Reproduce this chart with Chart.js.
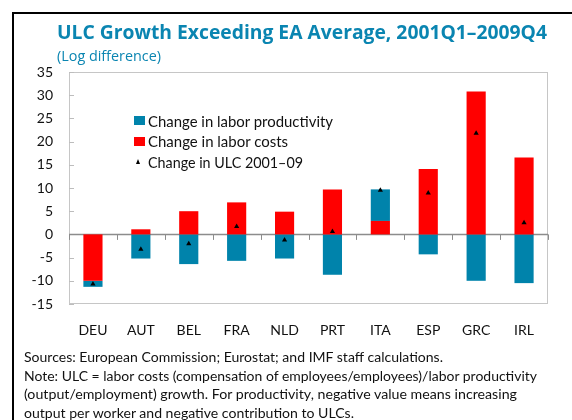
<!DOCTYPE html>
<html><head><meta charset="utf-8">
<script src="https://cdn.jsdelivr.net/npm/chart.js@4.4.1/dist/chart.umd.min.js"></script>
<style>
html,body{margin:0;padding:0;background:#fff;width:572px;height:420px;overflow:hidden;position:relative;font-family:Lato,sans-serif}
#frame{position:absolute;left:12px;top:12px;width:620px;height:470px;border-left:2px solid #000;border-top:2px solid #000;}
#c{position:absolute;left:0;top:0}
.t{position:absolute;white-space:nowrap;transform-origin:0 50%;line-height:20px;height:20px;color:#111}
.title{font-family:"Open Sans",sans-serif;font-weight:700;font-size:19.5px;color:#0A85B1;left:57px;top:22px}
.sub{font-family:"Open Sans",sans-serif;font-size:14px;color:#0A85B1;left:57px;top:46px}
.lg{font-size:15px;left:148px}
.sw{position:absolute;left:134px;width:11px;height:9px}
.tri{position:absolute;left:136px;width:0;height:0;border-left:2.5px solid transparent;border-right:2.5px solid transparent;border-bottom:5px solid #000}
.note{font-size:13.5px;left:24px}
</style></head>
<body>
<div id="frame"></div>
<canvas id="c" width="572" height="420"></canvas>
<div class="t title" data-w="490">ULC Growth Exceeding EA Average, 2001Q1–2009Q4</div>
<div class="t sub" data-w="104">(Log difference)</div>
<div class="sw" style="top:116px;background:#0083AB"></div>
<div class="t lg" style="top:111px" data-w="185">Change in labor productivity</div>
<div class="sw" style="top:137px;background:#FF0000"></div>
<div class="t lg" style="top:131px" data-w="140">Change in labor costs</div>
<div class="tri" style="top:159px"></div>
<div class="t lg" style="top:152px" data-w="155">Change in ULC 2001–09</div>
<div class="t note" style="top:347px" data-w="419">Sources: European Commission; Eurostat; and IMF staff calculations.</div>
<div class="t note" style="top:366px" data-w="513">Note: ULC = labor costs (compensation of employees/employees)/labor productivity</div>
<div class="t note" style="top:384px" data-w="493">(output/employment) growth. For productivity, negative value means increasing</div>
<div class="t note" style="top:403px" data-w="330">output per worker and negative contribution to ULCs.</div>
<script>
const categories = ['DEU','AUT','BEL','FRA','NLD','PRT','ITA','ESP','GRC','IRL'];
const laborCosts = [-10.0, 1.1, 5.0, 6.9, 4.9, 9.7, 2.9, 14.1, 30.8, 16.6];
const laborProductivity = [-1.3, -5.2, -6.4, -5.7, -5.2, -8.7, 6.8, -4.3, -10.0, -10.5];
const ulcChange = [-10.7, -3.2, -2.0, 1.7, -1.2, 0.6, 9.5, 8.9, 21.8, 2.5];
const yMin = -15, yMax = 35, yStep = 5;

const deco = {
  id: 'deco',
  beforeDatasetsDraw(chart) {
    const {ctx, chartArea: a, scales: {x, y}} = chart;
    ctx.save();
    ctx.strokeStyle = '#c6c6c6';
    ctx.lineWidth = 1;
    ctx.strokeRect(a.left + 0.5, a.top + 0.5, a.right - a.left - 1, a.bottom - a.top - 1);
    ctx.strokeStyle = '#bdbdbd';
    y.ticks.forEach(t => {
      const py = Math.round(y.getPixelForValue(t.value)) + 0.5;
      ctx.beginPath(); ctx.moveTo(a.left, py); ctx.lineTo(a.left + 5, py); ctx.stroke();
    });
    const y0 = y.getPixelForValue(0);
    ctx.strokeStyle = '#8c8c8c';
    ctx.lineWidth = 1.5;
    ctx.beginPath(); ctx.moveTo(a.left, y0); ctx.lineTo(a.right, y0); ctx.stroke();
    const half = (x.getPixelForValue(1) - x.getPixelForValue(0)) / 2;
    ctx.lineWidth = 1;
    for (let i = 0; i <= categories.length; i++) {
      const px = Math.round(i < categories.length ? x.getPixelForValue(i) - half : x.getPixelForValue(i - 1) + half) + 0.5;
      ctx.beginPath(); ctx.moveTo(px, y0); ctx.lineTo(px, y0 + 5.5); ctx.stroke();
    }
    ctx.restore();
  }
};

new Chart(document.getElementById('c'), {
  data: {
    labels: categories,
    datasets: [
      {type: 'line', label: 'Change in ULC 2001–09', data: ulcChange, showLine: false, stack: 'ulc',
       pointStyle: 'triangle', pointRadius: 3, pointBackgroundColor: '#000', pointBorderColor: '#000', pointBorderWidth: 0, order: 0},
      {type: 'bar', label: 'Change in labor costs', data: laborCosts, backgroundColor: '#FF0000', order: 1,
       barPercentage: 0.4, categoryPercentage: 1},
      {type: 'bar', label: 'Change in labor productivity', data: laborProductivity, backgroundColor: '#0083AB', order: 1,
       barPercentage: 0.4, categoryPercentage: 1}
    ]
  },
  options: {
    responsive: false, animation: false, devicePixelRatio: 1,
    layout: {padding: {left: 0, top: 72, right: 24, bottom: 76}},
    plugins: {legend: {display: false}, tooltip: {enabled: false}},
    scales: {
      x: {stacked: true, grid: {display: false}, border: {display: false},
          ticks: {color: '#111', font: {family: 'Lato', size: 14}, padding: 10, maxRotation: 0},
          afterFit(s) { s.height = 40; }},
      y: {stacked: true, min: yMin, max: yMax, grid: {display: false, drawTicks: false}, border: {display: false},
          ticks: {stepSize: yStep, color: '#111', font: {family: 'Lato', size: 14}, padding: 16},
          afterFit(s) { s.width = 69; }}
    }
  },
  plugins: [deco]
});

function fit() {
  document.querySelectorAll('[data-w]').forEach(el => {
    el.style.transform = 'none';
    const w = el.getBoundingClientRect().width;
    el.style.transform = 'scaleX(' + (el.dataset.w / w) + ')';
  });
}
fit();
if (document.fonts && document.fonts.ready) document.fonts.ready.then(fit);
</script>
</body></html>
